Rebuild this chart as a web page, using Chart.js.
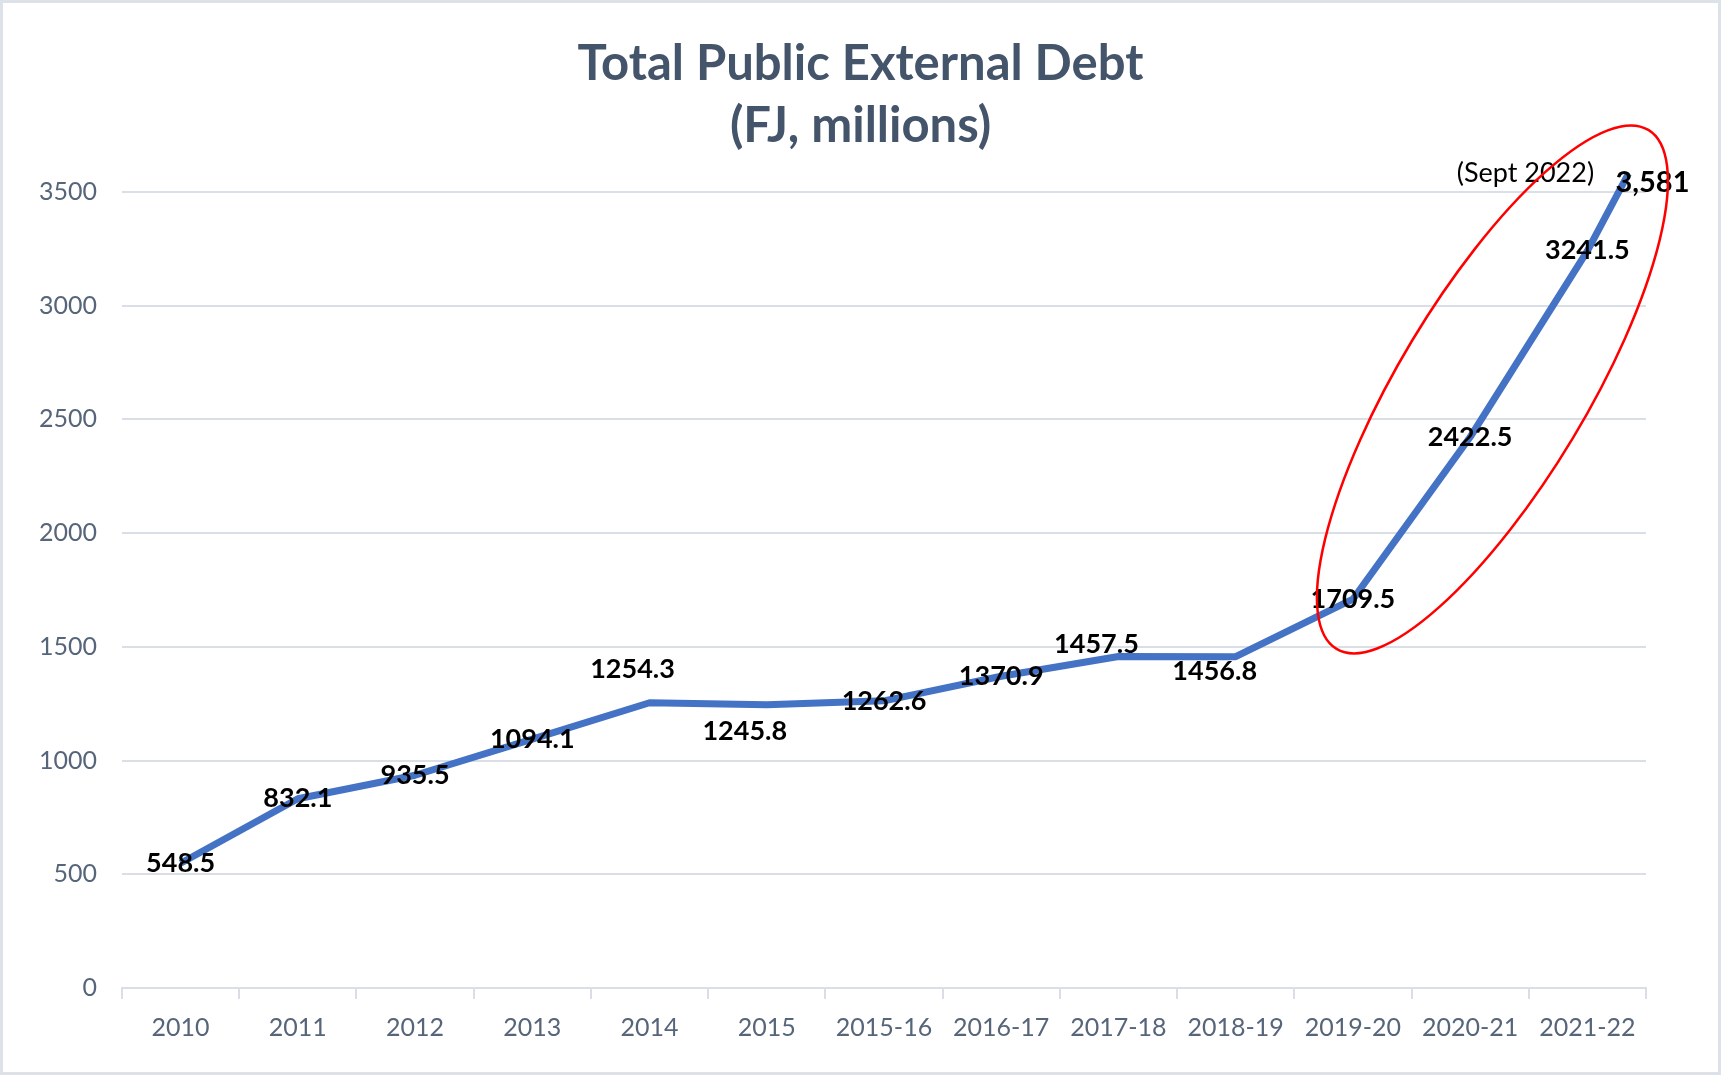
<!DOCTYPE html>
<html>
<head>
<meta charset="utf-8">
<title>Total Public External Debt</title>
<script src="https://cdn.jsdelivr.net/npm/chart.js@4.4.0/dist/chart.umd.min.js"></script>
<style>
  html, body { margin: 0; padding: 0; background: #fff; }
  #wrap { width: 1721px; height: 1075px; }
</style>
</head>
<body>
<div id="wrap"><canvas id="debtChart" width="1721" height="1075"></canvas></div>
<script>
// Public external debt, FJ$ millions
const periods = ['2010', '2011', '2012', '2013', '2014', '2015', '2015-16', '2016-17', '2017-18', '2018-19', '2019-20', '2020-21', '2021-22'];
const debt = [548.5, 832.1, 935.5, 1094.1, 1254.3, 1245.8, 1262.6, 1370.9, 1457.5, 1456.8, 1709.5, 2422.5, 3241.5];
const latestNote = '(Sept 2022)';
const latestDebt = 3581;
const yTicks = [0, 500, 1000, 1500, 2000, 2500, 3000, 3500];
const titleLines = ['Total Public External Debt', '(FJ, millions)'];

// where the Sept 2022 figure sits past the last fiscal year
const latestPos = 12.35;

// nudges for value labels that would sit on top of each other
const labelShift = [[0, 0], [0, 0], [0, 0], [0, 0], [-17, -33], [-22, 27], [0, 0], [0, 0], [-22, -12], [-21, 15], [0, 0], [0, 0], [0, 0]];

// highlight ring around the recent jump: major-axis ends (index, value) + minor radius in px
const ring = { from: [9.86, 1491], to: [12.52, 3773], minor: 94 };

const points = debt.map((v, i) => ({ x: i, y: v }));
points.push({ x: latestPos, y: latestDebt });

const TEXT = '#44546A';
const AXIS_TEXT = '#56657a';
const GRID = '#d9dee7';

const frame = {
    id: 'frame',
    beforeDraw(chart) {
        const c = chart.ctx;
        c.save();
        c.fillStyle = '#fff';
        c.fillRect(0, 0, chart.width, chart.height);
        c.restore();
    },
    afterDraw(chart) {
        const c = chart.ctx;
        c.save();
        c.strokeStyle = '#dde2ea';
        c.lineWidth = 3;
        c.strokeRect(1.5, 1.5, chart.width - 3, chart.height - 3);
        // title
        c.fillStyle = TEXT;
        c.font = 'bold 49px Lato';
        c.textAlign = 'center';
        c.textBaseline = 'middle';
        titleLines.forEach((t, i) => c.fillText(t, chart.width / 2, 64 + i * 62));
        c.restore();
    }
};

const valueLabels = {
    id: 'valueLabels',
    afterDatasetsDraw(chart) {
        const c = chart.ctx;
        const pts = chart.getDatasetMeta(0).data;
        c.save();
        c.fillStyle = '#000';
        c.textAlign = 'center';
        c.textBaseline = 'middle';
        c.font = 'bold 27px Lato';
        debt.forEach((v, i) => {
            const p = pts[i];
            c.fillText(v.toFixed(1), p.x + labelShift[i][0], p.y + labelShift[i][1]);
        });
        const last = pts[debt.length];
        c.font = 'bold 29px Lato';
        c.fillText(latestDebt.toLocaleString('en-US'), last.x + 24, last.y + 9);
        c.font = '27px Lato';
        c.fillText(latestNote, last.x - 103, last.y);
        c.restore();
    }
};

const highlight = {
    id: 'highlight',
    afterDatasetsDraw(chart) {
        const xs = chart.scales.x2, ys = chart.scales.y;
        const x1 = xs.getPixelForValue(ring.from[0]), y1 = ys.getPixelForValue(ring.from[1]);
        const x2 = xs.getPixelForValue(ring.to[0]), y2 = ys.getPixelForValue(ring.to[1]);
        const c = chart.ctx;
        c.save();
        c.strokeStyle = '#ff0000';
        c.lineWidth = 2.5;
        c.beginPath();
        c.ellipse((x1 + x2) / 2, (y1 + y2) / 2, Math.hypot(x2 - x1, y2 - y1) / 2, ring.minor,
            Math.atan2(y2 - y1, x2 - x1), 0, Math.PI * 2);
        c.stroke();
        c.restore();
    }
};

new Chart(document.getElementById('debtChart'), {
    type: 'line',
    data: {
        labels: periods,
        datasets: [{
            data: points,
            xAxisID: 'x2',
            borderColor: '#4472C4',
            borderWidth: 7,
            pointRadius: 0,
            tension: 0,
            clip: false,
            borderJoinStyle: 'round'
        }]
    },
    options: {
        responsive: false,
        animation: false,
        layout: { padding: { top: 192, right: 75, left: 0, bottom: 0 } },
        plugins: {
            legend: { display: false },
            tooltip: { enabled: false }
        },
        scales: {
            x: {
                type: 'category',
                offset: true,
                afterFit: s => { s.height = 87; },
                grid: {
                    offset: true,
                    drawOnChartArea: false,
                    drawTicks: true,
                    tickLength: 11,
                    color: GRID,
                    lineWidth: 2
                },
                border: { display: true, color: GRID, width: 2 },
                ticks: {
                    color: AXIS_TEXT,
                    font: { family: 'Lato', size: 25 },
                    padding: 14,
                    maxRotation: 0,
                    autoSkip: false
                }
            },
            x2: {
                type: 'linear',
                display: false,
                min: -0.5,
                max: periods.length - 0.5
            },
            y: {
                min: 0,
                max: 3500,
                afterFit: s => { s.width = 122; },
                afterBuildTicks: s => { s.ticks = yTicks.map(v => ({ value: v })); },
                grid: { color: GRID, lineWidth: 2, drawTicks: false },
                border: { display: false },
                ticks: {
                    color: AXIS_TEXT,
                    font: { family: 'Lato', size: 25 },
                    padding: 25,
                    callback: v => String(v)
                }
            }
        }
    },
    plugins: [frame, valueLabels, highlight]
});
</script>
</body>
</html>
